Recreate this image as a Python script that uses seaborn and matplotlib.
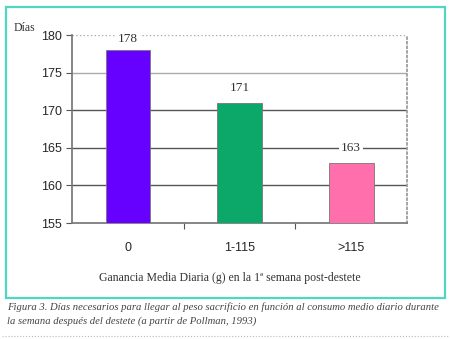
import matplotlib
matplotlib.use("Agg")
import matplotlib.pyplot as plt
import seaborn as sns
import pandas as pd
from matplotlib.patches import Rectangle
from matplotlib.lines import Line2D

categories = ["0", "1-115", ">115"]
dias = [178, 171, 163]
colors = ["#6600FF", "#0BA86A", "#FF6FAB"]
y_ticks = [155, 160, 165, 170, 175, 180]

sns.set_theme(style="white")
plt.rcParams["font.family"] = ["Liberation Sans", "DejaVu Sans"]

fig = plt.figure(figsize=(4.5, 3.39), dpi=100)
W, H = 450, 339
ax = fig.add_axes([72 / W, 1 - 223 / H, 335 / W, 188 / H])

df = pd.DataFrame({"cat": categories, "dias": dias})
sns.barplot(data=df, x="cat", y="dias", hue="cat", palette=colors,
            width=0.4, ax=ax, legend=False, edgecolor="#777777", linewidth=0.6,
            saturation=1, zorder=3)

ax.set_ylim(155, 180)
ax.set_yticks(y_ticks)
ax.set_xlim(-0.5, 2.5)
for y in y_ticks[1:]:
    ax.axhline(y, color="#555555" if y < 175 else "#AAAAAA", lw=1.0, zorder=1,
               ls=":" if y == 180 else "-")
ax.set_xticks([0.5, 1.5], minor=True)
ax.tick_params(axis="x", which="major", length=0, labelsize=9, pad=14)
ax.tick_params(axis="x", which="minor", length=4, width=0.8, color="#555555", direction="out", bottom=True)
ax.tick_params(axis="y", length=4, width=0.8, color="#555555", direction="out", left=True, labelsize=9, pad=3)
ax.spines["top"].set_visible(False)
ax.spines["right"].set_color("#999999")
ax.spines["right"].set_linestyle(":")
ax.spines["left"].set_color("#777777")
ax.spines["bottom"].set_color("#777777")
ax.set_xlabel("")
ax.set_ylabel("")

for i, v in enumerate(dias):
    ax.text(i, min(v + 2, 179.5), str(v), ha="center", va="center", fontsize=9.5,
            family="Liberation Serif", color="#333333", zorder=4, clip_on=False,
            bbox=dict(facecolor="white", edgecolor="none", pad=1.5))

fig.text(14 / W, 1 - 28 / H, "Días", family="Liberation Serif", fontsize=8.5,
         color="#333333", ha="left", va="center")
fig.text(230 / W, 1 - 278 / H, "Ganancia Media Diaria (g) en la 1ª semana post-destete",
         family="Liberation Serif", fontsize=8.5, color="#333333", ha="center", va="center")

fig.text(7 / W, 1 - 307 / H,
         "Figura 3. Días necesarios para llegar al peso sacrificio en función al consumo medio diario durante",
         family="Liberation Serif", style="italic", fontsize=7.7, color="#444444", ha="left", va="center")
fig.text(7 / W, 1 - 321 / H,
         "la semana después del destete (a partir de Pollman, 1993)",
         family="Liberation Serif", style="italic", fontsize=7.7, color="#444444", ha="left", va="center")

fig.patches.append(Rectangle((6 / W, 1 - 298 / H), 439 / W, 291 / H, transform=fig.transFigure,
                             fill=False, edgecolor="#4ED8C2", lw=1.6))
fig.lines.append(Line2D([2 / W, 448 / W], [1 - 336 / H, 1 - 336 / H], transform=fig.transFigure,
                        color="#BBBBBB", lw=0.8, ls=":"))

fig.savefig("out.png", dpi=100)
